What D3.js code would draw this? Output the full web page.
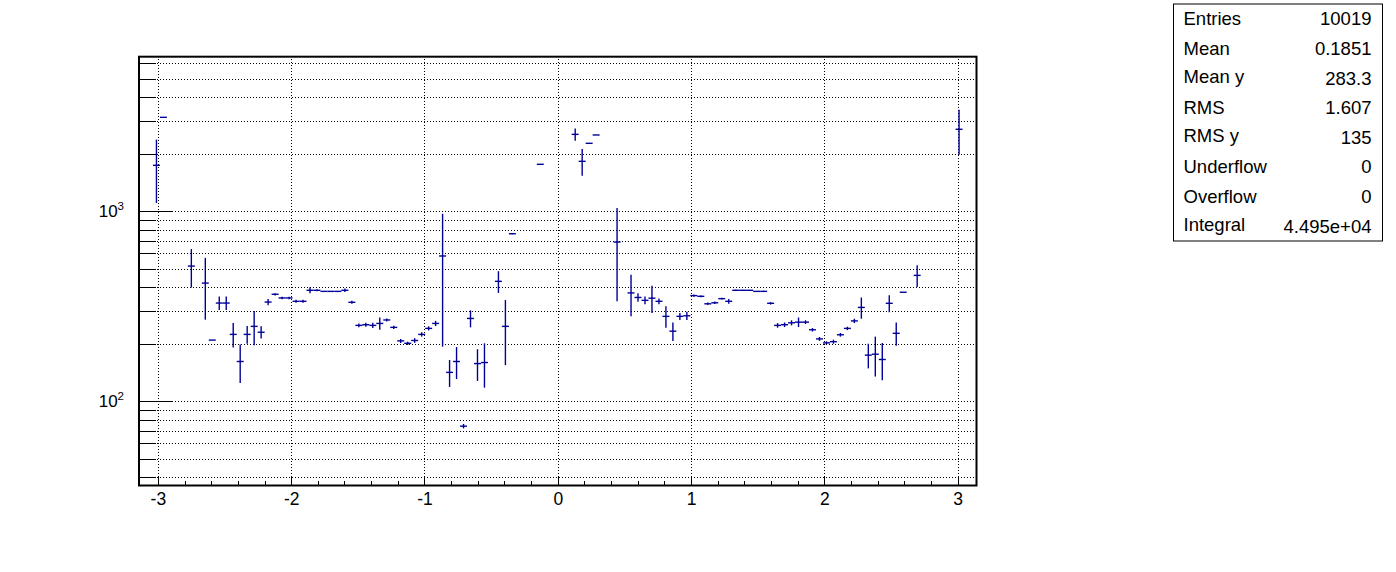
<!DOCTYPE html>
<html>
<head>
<meta charset="utf-8">
<script src="https://cdn.jsdelivr.net/npm/d3@7"></script>
<style>
body { margin: 0; background: #fff; }
svg { display: block; font-family: "Liberation Sans", Arial, Helvetica, sans-serif; }
</style>
</head>
<body>
<svg id="chart"></svg>
<script>
// profile binning
var nBins = 120, xMin = -Math.PI, xMax = Math.PI;

// filled bins only (index, mean, error)
var binIndex = [2, 3, 7, 9, 10, 11, 12, 13, 14, 15, 16, 17, 18, 19, 20, 21, 22, 23, 24, 25,
  26, 27, 28, 29, 30, 31, 32, 33, 34, 35, 36, 37, 38, 39, 40, 41, 42, 43, 44, 45,
  46, 47, 48, 49, 51, 52, 53, 57, 62, 63, 64, 65, 68, 70, 71, 72, 73, 74, 75, 76,
  77, 78, 79, 80, 81, 82, 83, 84, 85, 86, 87, 88, 89, 90, 91, 92, 93, 94, 95, 96,
  97, 98, 99, 100, 101, 102, 103, 104, 105, 106, 107, 108, 109, 111, 117];
var binMean = [1746, 3124, 515, 419, 210, 329, 329, 225, 162, 225, 248, 231, 333, 366, 350, 350, 336, 336, 384, 384,
  379, 379, 379, 384, 332, 251, 253, 251, 257, 268, 245, 208, 202, 209, 225, 242, 257, 582, 142, 162,
  74, 273, 158, 160, 428, 248, 762, 1768, 2541, 1833, 2280, 2522, 689, 372, 352, 340, 349, 336, 280, 234,
  280, 282, 360, 357, 326, 330, 347, 336, 384, 384, 384, 379, 379, 328, 251, 253, 259, 261, 261, 238,
  213, 203, 206, 224, 242, 265, 312, 175, 177, 166, 328, 228, 375, 460, 2702];
var binError = [640, 0, 118, 150, 0, 27, 27, 33, 37, 24, 51, 17, 13, 5, 5, 5, 6, 6, 14, 5,
  2, 1, 1, 8, 6, 6, 6, 8, 19, 5, 5, 5, 4, 6, 6, 6, 8, 388, 23, 31,
  2, 28, 30, 42, 56, 93, 5, 0, 190, 295, 0, 0, 353, 92, 18, 16, 57, 12, 36, 26,
  12, 14, 5, 4, 5, 5, 4, 10, 3, 1, 1, 1, 3, 5, 7, 7, 8, 15, 6, 5,
  5, 4, 5, 5, 5, 7, 40, 26, 42, 37, 34, 32, 0, 60, 720];

var xTicks = [-3, -2, -1, 0, 1, 2, 3];
var yLabelTicks = [100, 1000];

var statNames = ["Entries", "Mean", "Mean y", "RMS", "RMS y", "Underflow", "Overflow", "Integral"];
var statValues = ["10019", "0.1851", "283.3", "1.607", "135", "0", "0", "4.495e+04"];

var svgWidth = 1396, svgHeight = 572;
var frame = { left: 139, right: 976.5, top: 56.7, bottom: 485.5 };
var lineColor = "#000099";

var svg = d3.select("#chart")
    .attr("width", svgWidth)
    .attr("height", svgHeight);

var x = d3.scaleLinear().domain([xMin, xMax]).range([frame.left, frame.right]);
var y = d3.scaleLog().domain([36.05, 6513]).range([frame.bottom, frame.top]);

var width = frame.right - frame.left;
var height = frame.bottom - frame.top;

// tick positions
var xMinor = d3.range(-30, 31, 2).map(function(d) { return d / 10; })
    .filter(function(d) { return xTicks.indexOf(d) < 0; });
var yAll = [];
[10, 100, 1000].forEach(function(dec) {
  for (var m = 1; m <= 9; m++) {
    var v = m * dec;
    if (v >= y.domain()[0] && v <= y.domain()[1]) yAll.push(v);
  }
});
var yMinor = yAll.filter(function(d) { return yLabelTicks.indexOf(d) < 0; });

// grid
var gridX = svg.append("g")
    .attr("transform", "translate(0," + frame.bottom + ")")
    .call(d3.axisBottom(x).tickValues(xTicks).tickSize(-height).tickFormat(""));
gridX.select(".domain").remove();
gridX.selectAll("line").attr("stroke", "#000").attr("stroke-dasharray", "1,2")
    .attr("shape-rendering", "crispEdges");

var gridY = svg.append("g")
    .attr("transform", "translate(" + frame.left + ",0)")
    .call(d3.axisLeft(y).tickValues(yAll).tickSize(-width).tickFormat(""));
gridY.select(".domain").remove();
gridY.selectAll("line").attr("stroke", "#000").attr("stroke-dasharray", "1,2")
    .attr("shape-rendering", "crispEdges");

// x axis ticks (inside)
var xMajorAxis = svg.append("g")
    .attr("transform", "translate(0," + frame.bottom + ")")
    .call(d3.axisBottom(x).tickValues(xTicks).tickSize(-10).tickPadding(0).tickFormat(d3.format("d")));
xMajorAxis.select(".domain").remove();
xMajorAxis.selectAll("line").attr("stroke", "#000").attr("shape-rendering", "crispEdges");
xMajorAxis.selectAll("text")
    .attr("fill", "#000")
    .attr("font-size", 17.5)
    .attr("y", 19)
    .attr("dy", null)
    .text(function(d) { return d < 0 ? "-" + Math.abs(d) : d; });

var xMinorAxis = svg.append("g")
    .attr("transform", "translate(0," + frame.bottom + ")")
    .call(d3.axisBottom(x).tickValues(xMinor).tickSize(-5).tickFormat(""));
xMinorAxis.select(".domain").remove();
xMinorAxis.selectAll("line").attr("stroke", "#000").attr("shape-rendering", "crispEdges");

// y axis ticks (inside)
var yMajorAxis = svg.append("g")
    .attr("transform", "translate(" + frame.left + ",0)")
    .call(d3.axisLeft(y).tickValues(yLabelTicks).tickSize(-33).tickFormat(""));
yMajorAxis.select(".domain").remove();
yMajorAxis.selectAll("line").attr("stroke", "#000").attr("shape-rendering", "crispEdges");
yMajorAxis.selectAll(".tick text").remove();
yMajorAxis.selectAll(".tick").append("text")
    .attr("x", -15)
    .attr("y", 5.5)
    .attr("text-anchor", "end")
    .attr("fill", "#000")
    .attr("font-size", 17)
    .each(function(d) {
      var t = d3.select(this);
      t.append("tspan").text("10");
      t.append("tspan").attr("font-size", 11.5).attr("dy", -7).text(Math.round(Math.log10(d)));
    });

var yMinorAxis = svg.append("g")
    .attr("transform", "translate(" + frame.left + ",0)")
    .call(d3.axisLeft(y).tickValues(yMinor).tickSize(-17).tickFormat(""));
yMinorAxis.select(".domain").remove();
yMinorAxis.selectAll("line").attr("stroke", "#000").attr("shape-rendering", "crispEdges");

// frame
svg.append("rect")
    .attr("x", frame.left)
    .attr("y", frame.top)
    .attr("width", width)
    .attr("height", height)
    .attr("fill", "none")
    .attr("stroke", "#000")
    .attr("stroke-width", 2);

// profile points
var binW = (xMax - xMin) / nBins;
var bins = binIndex.map(function(k, i) {
  return { lo: xMin + k * binW, hi: xMin + (k + 1) * binW, c: xMin + (k + 0.5) * binW, m: binMean[i], e: binError[i] };
});

var pts = svg.append("g").attr("stroke", lineColor).attr("stroke-width", 1.4);

pts.selectAll(".hbar")
    .data(bins)
    .enter().append("line")
    .attr("x1", function(d) { return x(d.lo); })
    .attr("x2", function(d) { return x(d.hi); })
    .attr("y1", function(d) { return y(d.m); })
    .attr("y2", function(d) { return y(d.m); });

pts.selectAll(".vbar")
    .data(bins.filter(function(d) { return d.e > 0; }))
    .enter().append("line")
    .attr("x1", function(d) { return x(d.c); })
    .attr("x2", function(d) { return x(d.c); })
    .attr("y1", function(d) { return y(d.m - d.e); })
    .attr("y2", function(d) { return y(d.m + d.e); });

// stats box
var box = { x: 1173.5, y: 4, w: 209, h: 237 };
var stats = svg.append("g");
stats.append("rect")
    .attr("x", box.x).attr("y", box.y)
    .attr("width", box.w).attr("height", box.h)
    .attr("fill", "#fff")
    .attr("stroke", "#000")
    .attr("stroke-width", 1);

var rowH = box.h / statNames.length;
statNames.forEach(function(name, i) {
  var base = box.y + rowH * (i + 0.5) + 6.5;
  var shift = /[gy]/.test(name) ? -2 : 0;
  stats.append("text")
      .attr("x", box.x + 10)
      .attr("y", base + shift)
      .attr("font-size", 18.5)
      .text(name);
  stats.append("text")
      .attr("x", box.x + box.w - 11)
      .attr("y", base)
      .attr("text-anchor", "end")
      .attr("font-size", 18.5)
      .text(statValues[i]);
});
</script>
</body>
</html>
